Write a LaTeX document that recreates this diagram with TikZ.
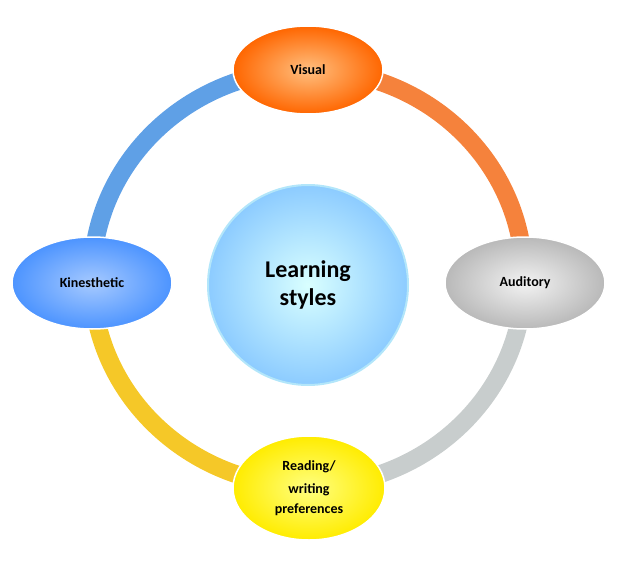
\documentclass[tikz,border=0pt]{standalone}
\usepackage{fontspec}
\setmainfont{Carlito}
\usetikzlibrary{shapes.geometric}
\definecolor{ringblue}{RGB}{95,160,230}
\definecolor{ringorange}{RGB}{245,130,60}
\definecolor{ringgray}{RGB}{200,205,205}
\definecolor{ringyellow}{RGB}{245,200,40}
\begin{document}
\begin{tikzpicture}[x=1pt,y=1pt,
  ball/.style={ellipse,minimum width=#1,align=center,draw=white,line width=1.5pt,font=\bfseries\fontsize{14}{17}\selectfont},
  seg/.style={line width=18pt}]
\useasboundingbox (0,0) rectangle (618,574);
\coordinate (c) at (308,296);
\draw[seg,color=ringorange] (c) ++(90:216 and 208) arc[start angle=90,end angle=0,x radius=216,y radius=208];
\draw[seg,color=ringgray] (c) ++(0:216 and 208) arc[start angle=0,end angle=-90,x radius=216,y radius=208];
\draw[seg,color=ringyellow] (c) ++(-90:216 and 208) arc[start angle=-90,end angle=-180,x radius=216,y radius=208];
\draw[seg,color=ringblue] (c) ++(180:216 and 208) arc[start angle=180,end angle=90,x radius=216,y radius=208];
\node[circle,minimum size=200pt,inner color=cyan!15,outer color=cyan!55!blue!45,draw=cyan!30,line width=2pt,font=\bfseries\fontsize{24}{28}\selectfont,align=center] (center) at (308,289) {Learning\\styles};
\node[ball=150pt,minimum height=88pt,inner color=orange!50,outer color=orange!80!red] (vis) at (308,504) {Visual};
\node[ball=160pt,minimum height=92pt,inner color=gray!10,outer color=gray!55] (aud) at (525,291) {Auditory};
\node[ball=160pt,minimum height=92pt,inner color=cyan!40!blue!35,outer color=blue!60!cyan!70] (kin) at (92,291) {Kinesthetic};
\node[ball=152pt,minimum height=104pt,inner color=yellow!50,outer color=yellow!85!orange] (read) at (309,86) {Reading/\\[6pt]writing\\[3pt]preferences};
\end{tikzpicture}
\end{document}
